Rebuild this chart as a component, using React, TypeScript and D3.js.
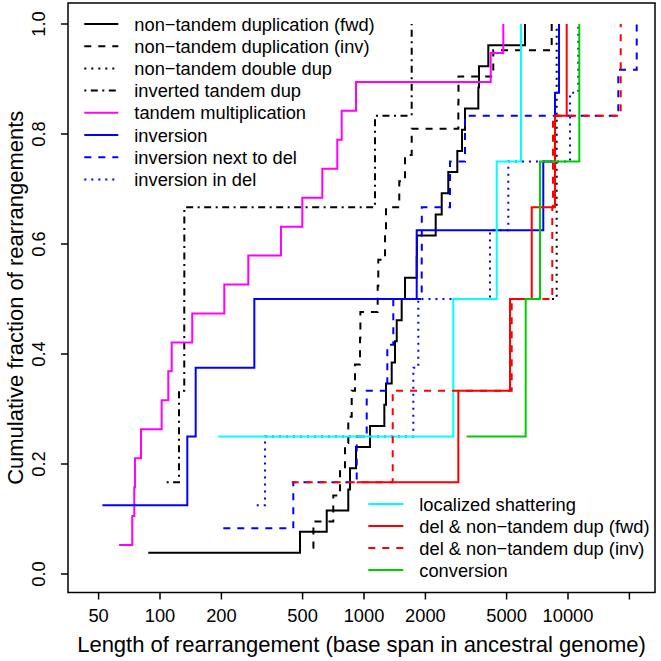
import React from "react";
import * as d3 from "d3";

// ---- data (base span values; each series is an ECDF) ----
const ntdFwd = [87.6, 485.7, 656.6, 837.5, 854, 913.8, 1070, 1258, 1282, 1367, 1419, 1447, 1530, 1589, 1813, 1818, 2246, 2404, 2589, 2867, 3023, 3127, 3634, 3662, 4068, 6154];
const ntdInv = [560, 565, 707, 763, 807, 837.5, 870.5, 903.5, 956, 960, 1167, 1175, 1268, 1282, 1489, 1589, 1713, 2900, 2905, 4303, 8320];
const ntdDouble = [7714, 8800];
const invTandem = [107.8, 123.9, 131.5, 131.6, 1132, 1713];
const tandemMult = [63.0, 73.1, 74.8, 75.4, 80.7, 101.9, 109.8, 114.1, 143.9, 206.6, 270.9, 391.9, 498.4, 624.7, 739.7, 777.5, 913.8, 4180, 4818];
const inversion = [52.2, 136.1, 149.6, 290, 1813, 7566, 8637, 9035];
const invNextDel = [204.3, 450.2, 921, 1031, 1301, 1392, 1918, 1920, 2640, 3127, 17645, 21720];
const invInDel = [297.9, 327.2, 1745, 1846, 4146, 5098, 10230, 11230];
const shattering = [193.1, 2740, 4473, 5883];
const delNtdFwd = [921, 2900, 5197, 6640, 8637, 9854];
const delNtdInv = [442.2, 1383, 5297, 8375, 8443, 18130];
const conversion = [3187, 6203, 7289, 11360];

const xTicks = [50, 100, 200, 500, 1000, 2000, 5000, 10000, 20000];
const xTickLabels = ["50", "100", "200", "500", "1000", "2000", "5000", "10000", ""];
const yTicks = [0, 0.2, 0.4, 0.6, 0.8, 1.0];
const yTickLabels = ["0.0", "0.2", "0.4", "0.6", "0.8", "1.0"];

const legend1Labels = [
  "non\u2212tandem duplication (fwd)",
  "non\u2212tandem duplication (inv)",
  "non\u2212tandem double dup",
  "inverted tandem dup",
  "tandem multiplication",
  "inversion",
  "inversion next to del",
  "inversion in del",
];
const legend2Labels = [
  "localized shattering",
  "del & non\u2212tandem dup (fwd)",
  "del & non\u2212tandem dup (inv)",
  "conversion",
];

// styles
const DASHED = "7,7";
const DOTTED = "2,5";
const DOTDASH = "2,4.5,7,4.5";
const series = [
  { data: ntdFwd, color: "#000000", dash: null },
  { data: ntdInv, color: "#000000", dash: DASHED },
  { data: ntdDouble, color: "#000000", dash: DOTTED },
  { data: invTandem, color: "#000000", dash: DOTDASH },
  { data: tandemMult, color: "#FF00FF", dash: null },
  { data: inversion, color: "#0000FF", dash: null },
  { data: invNextDel, color: "#0000FF", dash: DASHED },
  { data: invInDel, color: "#0000FF", dash: DOTTED },
  { data: shattering, color: "#00FFFF", dash: null },
  { data: delNtdFwd, color: "#FF0000", dash: null },
  { data: delNtdInv, color: "#FF0000", dash: DASHED },
  { data: conversion, color: "#00CD00", dash: null },
];

const W = 661;
const H = 661;
const FONT = "'Liberation Sans', Arial, Helvetica, sans-serif";
const FS = 18.3;
const FS_LAB = 22;

export default function App() {
  const x = d3.scaleLog().domain([100, 10000]).range([160, 568]);
  const y = d3.scaleLinear().domain([0, 1]).range([574, 24]);
  const box = { left: 68, right: 655, top: 3, bottom: 592.5 };

  const line = d3
    .line<[number, number]>()
    .x((d) => x(d[0]))
    .y((d) => y(d[1]))
    .curve(d3.curveStepAfter);

  const paths = series.map((s) => {
    const sorted = [...s.data].sort((a, b) => a - b);
    const n = sorted.length;
    const pts: [number, number][] = sorted.map((v, i) => [v, (i + 1) / n]);
    return line(pts) as string;
  });

  const leg1 = series.slice(0, 8);
  const leg2 = series.slice(8);

  return (
    <svg
      width={W}
      height={H}
      style={{ position: "absolute", left: 0, top: 0, background: "#fff" }}
      fontFamily={FONT}
    >
      <rect x={0} y={0} width={W} height={H} fill="#fff" />
      {paths.map((p, i) => (
        <path
          key={i}
          d={p}
          fill="none"
          stroke={series[i].color}
          strokeWidth={2}
          strokeDasharray={series[i].dash || undefined}
        />
      ))}
      {/* box */}
      <rect
        x={box.left}
        y={box.top}
        width={box.right - box.left}
        height={box.bottom - box.top}
        fill="none"
        stroke="#000"
        strokeWidth={1.5}
      />
      {/* x axis */}
      {xTicks.map((t, i) => (
        <g key={"xt" + i}>
          <line x1={x(t)} x2={x(t)} y1={box.bottom} y2={box.bottom + 7} stroke="#000" strokeWidth={1.5} />
          <text x={x(t)} y={622} textAnchor="middle" fontSize={FS}>
            {xTickLabels[i]}
          </text>
        </g>
      ))}
      {/* y axis */}
      {yTicks.map((t, i) => (
        <g key={"yt" + i}>
          <line x1={box.left - 7} x2={box.left} y1={y(t)} y2={y(t)} stroke="#000" strokeWidth={1.5} />
          <text
            transform={`translate(45,${y(t)}) rotate(-90)`}
            textAnchor="middle"
            fontSize={FS}
          >
            {yTickLabels[i]}
          </text>
        </g>
      ))}
      <text x={(box.left + box.right) / 2} y={652} textAnchor="middle" fontSize={FS_LAB}>
        Length of rearrangement (base span in ancestral genome)
      </text>
      <text
        transform={`translate(23,${(box.top + box.bottom) / 2}) rotate(-90)`}
        textAnchor="middle"
        fontSize={FS_LAB}
      >
        Cumulative fraction of rearrangements
      </text>
      {/* legend 1 */}
      {leg1.map((s, i) => {
        const cy = 24 + i * 22.2;
        return (
          <g key={"l1" + i}>
            <line x1={84.3} x2={118.3} y1={cy} y2={cy} stroke={s.color} strokeWidth={2} strokeDasharray={s.dash || undefined} />
            <text x={134.3} y={cy + 6.5} fontSize={FS}>
              {legend1Labels[i]}
            </text>
          </g>
        );
      })}
      {/* legend 2 */}
      {leg2.map((s, i) => {
        const cy = 504 + i * 22;
        return (
          <g key={"l2" + i}>
            <line x1={368.3} x2={403.3} y1={cy} y2={cy} stroke={s.color} strokeWidth={2} strokeDasharray={s.dash || undefined} />
            <text x={419.3} y={cy + 6.5} fontSize={FS}>
              {legend2Labels[i]}
            </text>
          </g>
        );
      })}
    </svg>
  );
}
